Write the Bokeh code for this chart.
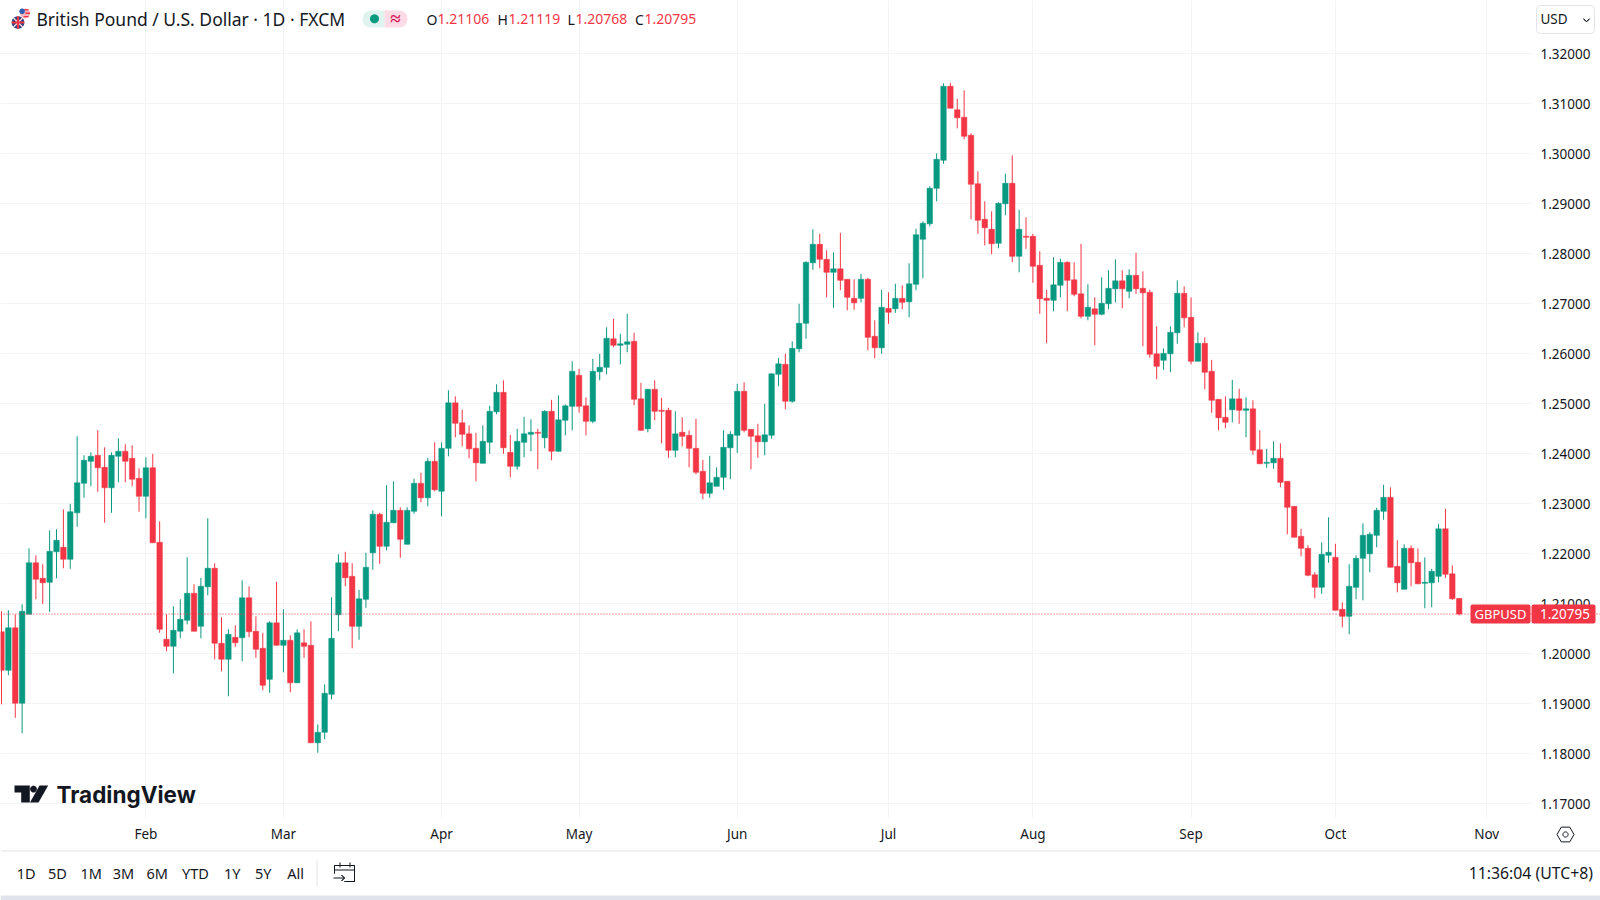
import math
from bokeh.plotting import figure
from bokeh.models import (ColumnDataSource, Range1d, FixedTicker, PrintfTickFormatter,
                          Label, BoxAnnotation, PolyAnnotation, Span)
from bokeh.embed import file_html
from bokeh.resources import INLINE

highs = [1.2085,1.2087,1.2079,1.2099,1.2211,1.2197,1.2179,1.2247,1.2249,1.2289,
1.2300,1.2435,1.2397,1.2403,1.2447,1.2413,1.2403,1.2431,1.2419,1.2417,
1.2371,1.2393,1.2400,1.2265,1.2079,1.2095,1.2109,1.2193,1.2139,1.2152,
1.2271,1.2181,1.2073,1.2049,1.2057,1.2147,1.2135,1.2075,1.2042,1.2065,
1.2144,1.2089,1.2037,1.2049,1.2049,1.2065,1.1859,1.1939,1.2113,1.2199,
1.2204,1.2181,1.2128,1.2202,1.2287,1.2282,1.2337,1.2345,1.2293,1.2293,
1.2350,1.2362,1.2392,1.2423,1.2423,1.2527,1.2515,1.2488,1.2457,1.2442,
1.2457,1.2496,1.2539,1.2547,1.2438,1.2450,1.2474,1.2469,1.2450,1.2487,
1.2508,1.2517,1.2499,1.2585,1.2570,1.2513,1.2590,1.2600,1.2653,1.2670,
1.2640,1.2680,1.2642,1.2542,1.2530,1.2547,1.2512,1.2492,1.2485,1.2473,
1.2447,1.2470,1.2388,1.2396,1.2373,1.2447,1.2445,1.2540,1.2543,1.2449,
1.2460,1.2500,1.2561,1.2592,1.2600,1.2625,1.2700,1.2785,1.2849,1.2840,
1.2807,1.2803,1.2842,1.2749,1.2749,1.2760,1.2752,1.2667,1.2728,1.2723,
1.2740,1.2737,1.2781,1.2850,1.2865,1.2935,1.3001,1.3141,1.3142,1.3110,
1.3127,1.3041,1.2965,1.2905,1.2885,1.2903,1.2960,1.2997,1.2888,1.2873,
1.2840,1.2805,1.2728,1.2793,1.2790,1.2785,1.2783,1.2820,1.2739,1.2713,
1.2753,1.2767,1.2789,1.2767,1.2769,1.2802,1.2765,1.2728,1.2655,1.2611,
1.2655,1.2747,1.2735,1.2713,1.2643,1.2633,1.2588,1.2509,1.2515,1.2548,
1.2530,1.2513,1.2507,1.2447,1.2410,1.2425,1.2421,1.2345,1.2295,1.2250,
1.2217,1.2163,1.2223,1.2273,1.2220,1.2103,1.2179,1.2197,1.2261,1.2243,
1.2292,1.2338,1.2333,1.2227,1.2219,1.2217,1.2211,1.2193,1.2170,1.2260,
1.2290,1.2177,1.21119]

lows = [1.1899,1.1957,1.1872,1.1841,1.2079,1.2109,1.2100,1.2084,1.2151,1.2171,
1.2170,1.2254,1.2312,1.2335,1.2324,1.2262,1.2282,1.2343,1.2343,1.2335,
1.2284,1.2271,1.2222,1.2042,1.2005,1.1961,1.2031,1.2059,1.2045,1.2031,
1.2117,1.1989,1.1965,1.1915,1.2014,1.1985,1.2033,1.1992,1.1927,1.1922,
1.2017,1.1963,1.1923,1.1942,1.1992,1.1822,1.1802,1.1829,1.1909,1.2045,
1.2135,1.2011,1.2028,1.2092,1.2168,1.2180,1.2207,1.2262,1.2192,1.2219,
1.2280,1.2303,1.2295,1.2325,1.2275,1.2395,1.2433,1.2415,1.2391,1.2345,
1.2381,1.2400,1.2479,1.2400,1.2353,1.2368,1.2393,1.2405,1.2369,1.2411,
1.2387,1.2404,1.2437,1.2447,1.2482,1.2437,1.2461,1.2547,1.2559,1.2613,
1.2579,1.2603,1.2497,1.2446,1.2443,1.2467,1.2421,1.2392,1.2393,1.2415,
1.2373,1.2359,1.2309,1.2312,1.2335,1.2328,1.2349,1.2402,1.2443,1.2369,
1.2392,1.2397,1.2430,1.2535,1.2489,1.2502,1.2603,1.2630,1.2768,1.2771,
1.2713,1.2692,1.2727,1.2687,1.2688,1.2703,1.2607,1.2591,1.2600,1.2660,
1.2682,1.2689,1.2673,1.2727,1.2751,1.2855,1.2905,1.2980,1.3091,1.3051,
1.3029,1.2869,1.2840,1.2817,1.2799,1.2811,1.2877,1.2783,1.2763,1.2810,
1.2742,1.2680,1.2621,1.2685,1.2713,1.2685,1.2715,1.2671,1.2667,1.2617,
1.2677,1.2689,1.2703,1.2691,1.2711,1.2720,1.2615,1.2592,1.2549,1.2568,
1.2563,1.2620,1.2653,1.2579,1.2585,1.2529,1.2482,1.2447,1.2451,1.2463,
1.2460,1.2433,1.2398,1.2380,1.2372,1.2370,1.2333,1.2239,1.2233,1.2195,
1.2155,1.2111,1.2120,1.2182,1.2087,1.2053,1.2039,1.2109,1.2107,1.2163,
1.2213,1.2268,1.2173,1.2123,1.2129,1.2135,1.2139,1.2091,1.2093,1.2143,
1.2152,1.2108,1.20768]

opens = [1.2044,1.1967,1.2052,1.1901,1.2079,1.2182,1.2151,1.2143,1.2204,1.2213,
1.2189,1.2282,1.2341,1.2385,1.2397,1.2373,1.2332,1.2395,1.2405,1.2391,
1.2351,1.2315,1.2372,1.2223,1.2029,1.2015,1.2045,1.2067,1.2121,1.2055,
1.2134,1.2171,1.2021,1.1989,1.2033,1.2032,1.2112,1.2045,1.2011,1.1949,
1.2062,1.2017,1.2027,1.1942,1.2022,1.2017,1.1822,1.1843,1.1919,1.2078,
1.2182,1.2155,1.2055,1.2109,1.2202,1.2279,1.2215,1.2262,1.2287,1.2219,
1.2285,1.2341,1.2312,1.2385,1.2325,1.2411,1.2502,1.2462,1.2440,1.2411,
1.2381,1.2423,1.2484,1.2523,1.2403,1.2375,1.2423,1.2439,1.2443,1.2432,
1.2485,1.2405,1.2467,1.2495,1.2557,1.2496,1.2465,1.2564,1.2573,1.2630,
1.2617,1.2619,1.2625,1.2510,1.2450,1.2529,1.2487,1.2487,1.2407,1.2443,
1.2437,1.2411,1.2365,1.2321,1.2335,1.2353,1.2412,1.2437,1.2525,1.2449,
1.2436,1.2424,1.2437,1.2559,1.2579,1.2505,1.2610,1.2661,1.2782,1.2819,
1.2789,1.2763,1.2770,1.2749,1.2711,1.2711,1.2749,1.2635,1.2612,1.2691,
1.2690,1.2711,1.2704,1.2739,1.2829,1.2860,1.2931,1.2987,1.3135,1.3088,
1.3073,1.3037,1.2940,1.2869,1.2849,1.2821,1.2900,1.2941,1.2795,1.2835,
1.2835,1.2777,1.2711,1.2707,1.2737,1.2783,1.2748,1.2720,1.2675,1.2690,
1.2679,1.2700,1.2730,1.2746,1.2725,1.2757,1.2731,1.2723,1.2600,1.2587,
1.2600,1.2642,1.2721,1.2673,1.2585,1.2621,1.2565,1.2509,1.2473,1.2488,
1.2510,1.2487,1.2490,1.2408,1.2381,1.2382,1.2391,1.2345,1.2295,1.2235,
1.2211,1.2158,1.2133,1.2197,1.2193,1.2089,1.2075,1.2133,1.2191,1.2200,
1.2237,1.2285,1.2313,1.2175,1.2129,1.2211,1.2183,1.2141,1.2142,1.2155,
1.2250,1.2160,1.21106]

closes = [1.1967,1.2052,1.1901,1.2085,1.2182,1.2149,1.2142,1.2205,1.2227,1.2189,
1.2284,1.2342,1.2387,1.2395,1.2372,1.2332,1.2397,1.2405,1.2385,1.2349,
1.2315,1.2372,1.2222,1.2049,1.2015,1.2047,1.2069,1.2121,1.2045,1.2135,
1.2171,1.2021,1.1989,1.2039,1.2022,1.2112,1.2044,1.2009,1.1937,1.2062,
1.2017,1.2027,1.1942,1.2042,1.2015,1.1822,1.1843,1.1921,1.2031,1.2182,
1.2152,1.2055,1.2110,1.2173,1.2279,1.2215,1.2263,1.2287,1.2229,1.2287,
1.2341,1.2312,1.2385,1.2328,1.2411,1.2502,1.2461,1.2439,1.2410,1.2382,
1.2425,1.2485,1.2523,1.2412,1.2375,1.2425,1.2440,1.2443,1.2441,1.2485,
1.2405,1.2468,1.2496,1.2565,1.2495,1.2465,1.2565,1.2573,1.2631,1.2617,
1.2620,1.2624,1.2509,1.2447,1.2529,1.2485,1.2485,1.2407,1.2440,1.2435,
1.2411,1.2363,1.2321,1.2342,1.2353,1.2413,1.2439,1.2525,1.2447,1.2435,
1.2424,1.2438,1.2560,1.2580,1.2505,1.2611,1.2661,1.2783,1.2819,1.2789,
1.2763,1.2770,1.2747,1.2713,1.2702,1.2749,1.2633,1.2612,1.2693,1.2683,
1.2711,1.2703,1.2740,1.2838,1.2861,1.2931,1.2989,1.3135,1.3091,1.3072,
1.3035,1.2939,1.2867,1.2852,1.2820,1.2901,1.2941,1.2795,1.2849,1.2833,
1.2775,1.2710,1.2707,1.2738,1.2783,1.2747,1.2719,1.2675,1.2693,1.2679,
1.2701,1.2731,1.2746,1.2730,1.2757,1.2730,1.2722,1.2599,1.2575,1.2601,
1.2643,1.2721,1.2672,1.2585,1.2621,1.2563,1.2507,1.2472,1.2463,1.2510,
1.2487,1.2490,1.2407,1.2380,1.2383,1.2391,1.2343,1.2293,1.2233,1.2211,
1.2157,1.2133,1.2199,1.2203,1.2087,1.2075,1.2135,1.2191,1.2237,1.2239,
1.2287,1.2313,1.2173,1.2142,1.2211,1.2182,1.2140,1.2143,1.2165,1.2250,
1.2159,1.2110,1.20795]

y_ticks = [1.17,1.18,1.19,1.20,1.21,1.22,1.23,1.24,1.25,1.26,1.27,1.28,1.29,1.30,1.31,1.32]
month_names = ["Feb","Mar","Apr","May","Jun","Jul","Aug","Sep","Oct","Nov"]
month_bars = [21,41,64,84,107,129,150,173,194,216]
last_price = 1.20795

FONT = "Noto Sans"
GREEN, RED, INK, GRID = "#089981", "#F23645", "#131722", "#F3F4F6"
W, H = 1600, 900

n = len(opens)
src = ColumnDataSource(dict(
    x=list(range(n)), o=opens, h=highs, l=lows, c=closes,
    top=[max(a, b) for a, b in zip(opens, closes)],
    bot=[min(a, b) for a, b in zip(opens, closes)],
    col=[GREEN if c >= o else RED for o, c in zip(opens, closes)],
))

p = figure(width=W, height=H, output_backend="svg", toolbar_location=None,
           x_range=Range1d(-0.1454, 232.55), y_range=Range1d(1.15066, 1.33066),
           y_axis_location="right", x_axis_location="below",
           min_border_left=0, min_border_top=0, min_border_right=0, min_border_bottom=0,
           outline_line_color=None, background_fill_color="white", border_fill_color="white")

p.xgrid[0].ticker = FixedTicker(ticks=month_bars)
p.ygrid[0].ticker = FixedTicker(ticks=y_ticks)
p.xgrid[0].grid_line_color = GRID
p.ygrid[0].grid_line_color = GRID


def box(x0, y0, x1, y1, color, radius=0, line=None, level="annotation"):
    p.add_layout(BoxAnnotation(left=x0, right=x1, top=H - y0, bottom=H - y1,
                               left_units="screen", right_units="screen", top_units="screen",
                               bottom_units="screen", fill_color=color, fill_alpha=1 if color else 0,
                               line_color=line, line_alpha=1 if line else 0,
                               border_radius=radius, level=level))


# panes of the price and time scales: the grid stops at their edge
box(1531, 0, W, H, "white", level="underlay")
box(0, 817, W, H, "white", level="underlay")

p.segment("x", "h", "x", "l", source=src, line_color="col", line_width=1)
p.vbar("x", 0.8, "top", "bot", source=src, fill_color="col", line_color="col", line_width=0.5)

yax = p.yaxis[0]
yax.fixed_location = 222.66
yax.ticker = FixedTicker(ticks=y_ticks)
yax.formatter = PrintfTickFormatter(format="%.5f")
yax.axis_line_color = None
yax.major_tick_line_color = None
yax.minor_tick_line_color = None
yax.major_label_text_font = FONT
yax.major_label_text_font_size = "13.5px"
yax.major_label_text_color = INK
yax.major_label_standoff = 2

xax = p.xaxis[0]
xax.fixed_location = 1.16726
xax.ticker = FixedTicker(ticks=month_bars)
xax.major_label_overrides = {b: m for b, m in zip(month_bars, month_names)}
xax.axis_line_color = None
xax.major_tick_line_color = None
xax.minor_tick_line_color = None
xax.major_label_text_font = FONT
xax.major_label_text_font_size = "13.5px"
xax.major_label_text_color = INK
xax.major_label_standoff = 1

p.add_layout(Span(location=last_price, dimension="width", line_color=RED, line_width=1,
                  line_dash="1 2"))


def lbl(x, y, t, size, color=INK, align="left", font=FONT, style="normal"):
    p.add_layout(Label(x=x, y=H - y, x_units="screen", y_units="screen", text=t,
                       text_font=font, text_font_size=f"{size}px", text_color=color,
                       text_align=align, text_baseline="middle", text_font_style=style))


def poly(pts, fill=None, line=None, width=1.0):
    p.add_layout(PolyAnnotation(xs=[a for a, _ in pts], ys=[H - b for _, b in pts],
                                xs_units="screen", ys_units="screen",
                                fill_color=fill, fill_alpha=1 if fill else 0,
                                line_color=line, line_alpha=1 if line else 0, line_width=width))


def stroke(pts, color, width=1.0):
    poly(pts + pts[-2:0:-1], None, color, width)


def circle(cx, cy, r, fill=None, line=None, width=1.0, k=24):
    poly([(cx + r * math.cos(2 * math.pi * i / k), cy + r * math.sin(2 * math.pi * i / k))
          for i in range(k)], fill, line, width)


# header: two coins (US above, UK below)
circle(24.5, 13, 5, "#F4B6BE")
box(24, 8.6, 28, 10, RED)
box(25, 12, 29.5, 13.4, RED)
box(23, 15.4, 28, 16.8, RED)
circle(21.6, 10.8, 2.8, "#2F5FB3")
circle(17.5, 22, 7, "white")
circle(17.5, 22, 6.3, "#33427A")
stroke([(13, 17.5), (22, 26.5)], "#F3D6DA", 1.4)
stroke([(22, 17.5), (13, 26.5)], "#F3D6DA", 1.4)
box(11.2, 21, 23.8, 23, RED)
box(16.5, 15.7, 18.5, 28.3, RED)
lbl(36, 18.5, "British Pound / U.S. Dollar \u00b7 1D \u00b7 FXCM", 17.5)
box(362, 10, 384, 27, "#E0F3EF", (8, 0, 0, 8))
box(384, 10, 407, 27, "#FBDCE6", (0, 8, 8, 0))
circle(374, 18.3, 4.5, GREEN)
lbl(395, 17.5, "\u2248", 19, "#D81B60", "center", FONT, "bold")
for x, t in [(426, "O"), (497, "H"), (567, "L"), (634.5, "C")]:
    lbl(x, 18.5, t, 14)
for x, t in [(437, "1.21106"), (508, "1.21119"), (575, "1.20768"), (644, "1.20795")]:
    lbl(x, 18.5, t, 14, RED)

# currency button
box(1536, 5, 1594, 33, None, 4, "#E0E3EB")
lbl(1540, 18.5, "USD", 13.5)
stroke([(1583, 18.5), (1586, 21), (1589, 18.5)], INK, 1)

# last price tag
box(1470, 604, 1530, 623, RED, 2)
box(1531, 604, 1595, 623, RED, 2)
lbl(1500, 613.5, "GBPUSD", 13, "white", "center")
lbl(1564.5, 613.5, "1.20795", 13.5, "white", "center")

# logo
poly([(14, 785), (29.3, 785), (29.3, 802), (20.7, 802), (20.7, 792), (14, 792)], INK)
circle(33, 788.6, 3.4, INK)
poly([(39, 785), (47.7, 785), (38, 802), (29.5, 802)], INK)
lbl(56, 794, "TradingView", 22.5, INK, "left", "Inter", "bold")

# settings icon
hexa = [(1565 + 8.5 * math.cos(math.pi * i / 3), 834 + 8.5 * math.sin(math.pi * i / 3)) for i in range(6)]
poly(hexa, None, INK, 1)
circle(1565, 834, 2.6, None, INK, 1)

# bottom toolbar
box(0, 850, W, 851, "#E0E3EB")
for x, t in zip([25.7, 57, 90.7, 123, 156.7, 195, 231.7, 262.7, 295],
                ["1D", "5D", "1M", "3M", "6M", "YTD", "1Y", "5Y", "All"]):
    lbl(x, 872.5, t, 14.5, INK, "center")
box(316, 860, 317, 886, "#E0E3EB")
lbl(1592.5, 872.5, "11:36:04 (UTC+8)", 15.8, INK, "right")
# calendar icon
stroke([(334, 873), (334, 865), (354, 865), (354, 881), (344, 881)], INK, 1)
box(334, 869, 354, 870, INK)
box(339, 862, 340, 867, INK)
box(349, 862, 350, 867, INK)
stroke([(333, 877.5), (344, 877.5)], INK, 1)
stroke([(341, 874.5), (344, 877.5), (341, 880.5)], INK, 1)
box(0, 895, W, H, "#E0E3EB")

open("out.html", "w").write(file_html(p, INLINE))
